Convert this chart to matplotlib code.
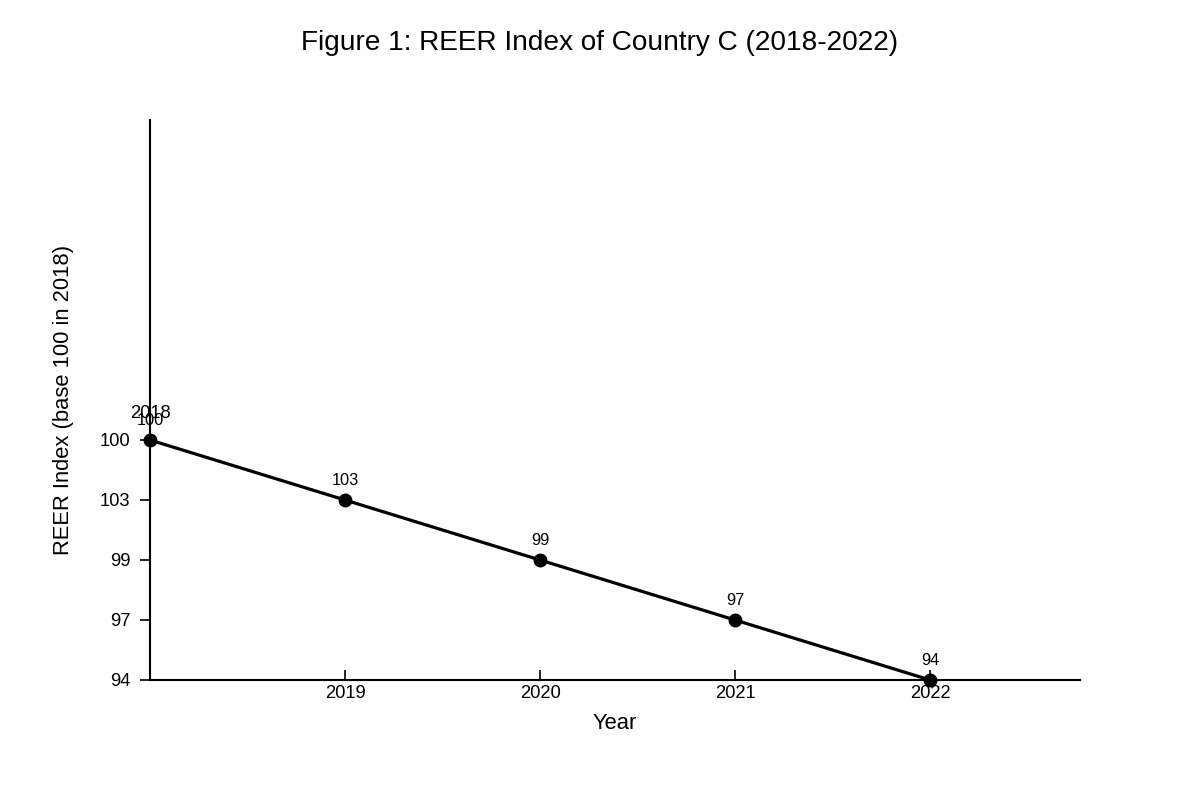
import matplotlib
matplotlib.use("Agg")
import matplotlib.pyplot as plt

plt.rcParams['font.family'] = ['Liberation Sans', 'DejaVu Sans']

years = [2018, 2019, 2020, 2021, 2022]
reer = [100, 103, 99, 97, 94]
title = "Figure 1: REER Index of Country C (2018-2022)"

# categorical y axis: categories in order of appearance, top to bottom
cats = [str(v) for v in reer]
ypos = {c: len(cats) - 1 - i for i, c in enumerate(cats)}

fig = plt.figure(figsize=(12, 8), dpi=100)
ax = fig.add_axes([150/1200, 1 - 680/800, (1080-150)/1200, (680-120)/800])

yv = [ypos[str(v)] for v in reer]
ax.plot(years, yv, color='black', linewidth=2.3, marker='o', markersize=9,
        clip_on=False, zorder=3)

for x, y, v in zip(years, yv, reer):
    ax.annotate(str(v), (x, y), xytext=(0, 14.0), textcoords='offset points',
                ha='center', va='center', fontsize=11.8)

ax.set_xlim(2018, 2018 + (1080-150)/195)
ax.set_ylim(0, (680-120)/60)

ax.set_xticks(years[1:])
ax.set_xticklabels([str(y) for y in years[1:]], fontsize=13.2)
ax.tick_params(axis='x', direction='in', length=7.2, width=1.2, pad=3.5)
# the first year's label as drawn in the reference (above the first point)
ax.annotate(str(years[0]), (years[0], yv[0]), xytext=(0, 19.4),
            textcoords='offset points', ha='center', va='center', fontsize=13.2)

ax.set_yticks([ypos[c] for c in cats])
ax.set_yticklabels(cats, fontsize=13.2)
ax.tick_params(axis='y', direction='out', length=7.2, width=1.2, pad=7)

for s in ['top', 'right']:
    ax.spines[s].set_visible(False)
for s in ['left', 'bottom']:
    ax.spines[s].set_linewidth(1.5)

ax.set_xlabel("Year", fontsize=15.8, labelpad=8)
ax.set_ylabel("REER Index (base 100 in 2018)", fontsize=15.8)
ax.yaxis.set_label_coords(-(150-64)/930, 0.5)
ax.yaxis.label.set_va('center')

fig.text(0.5, 1 - 43/800, title, ha='center', va='center', fontsize=20.2)

fig.savefig("out.png", dpi=100)
